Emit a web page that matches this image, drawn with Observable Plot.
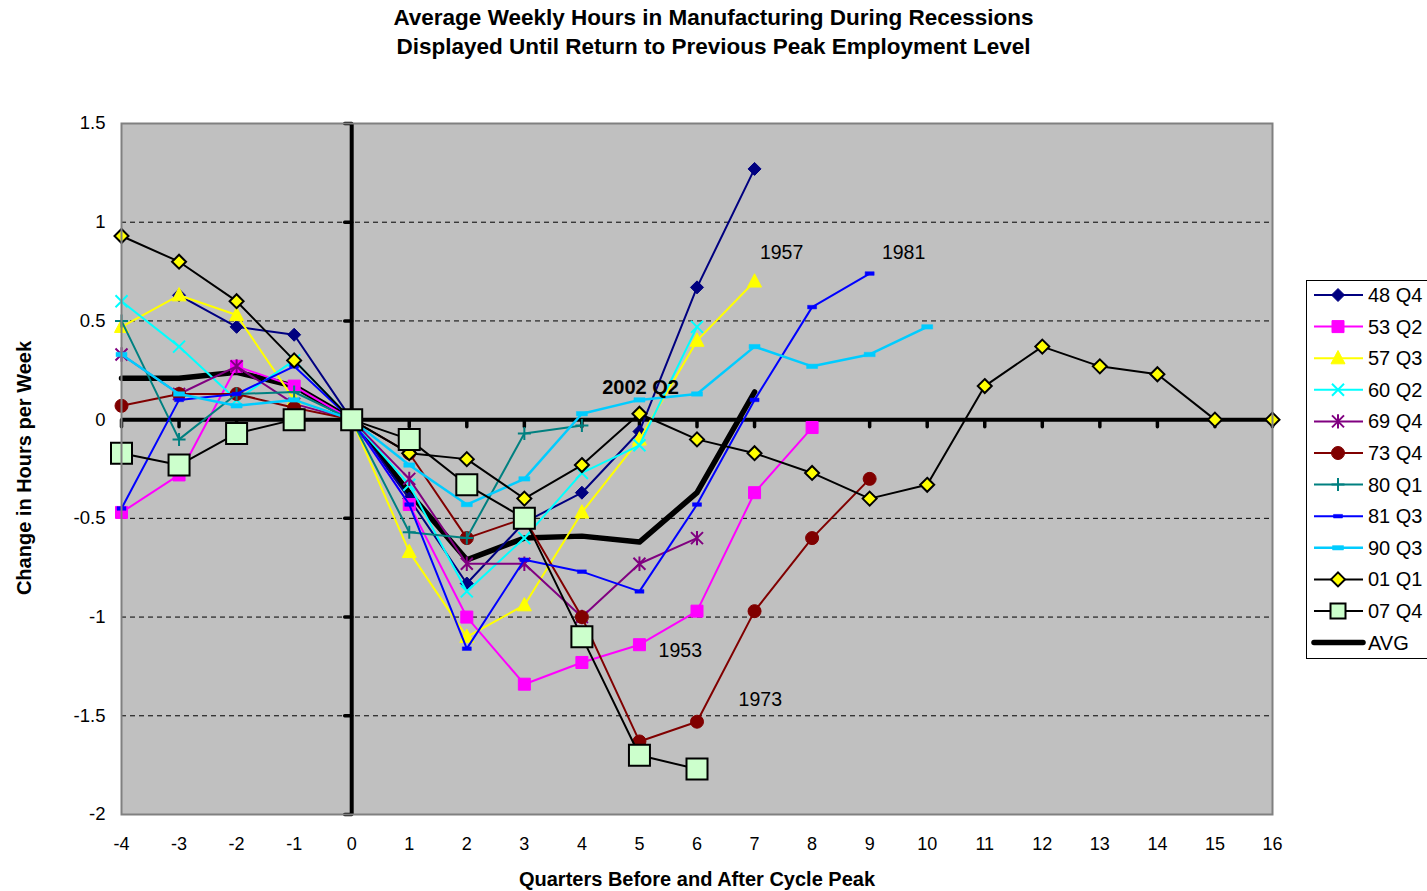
<!DOCTYPE html>
<html><head><meta charset="utf-8">
<script src="https://cdn.jsdelivr.net/npm/d3@7"></script>
<script src="https://cdn.jsdelivr.net/npm/@observablehq/plot@0.6"></script>
<style>
body{margin:0;background:#fff;font-family:Arial,"Liberation Sans",sans-serif;}
#wrap{position:relative;width:1427px;height:891px;overflow:hidden;background:#fff;}
#chart{position:absolute;left:0;top:0;}
#title{position:absolute;left:0;top:3px;width:1427px;text-align:center;font-weight:bold;font-size:22.5px;line-height:29px;color:#000;}
#ylab{position:absolute;left:24px;top:468px;transform:translate(-50%,-50%) rotate(-90deg);white-space:nowrap;font-weight:bold;font-size:20px;}
#xlab{position:absolute;left:697px;top:879px;transform:translate(-50%,-50%);white-space:nowrap;font-weight:bold;font-size:20px;}
#legend{position:absolute;left:1306px;top:280px;}
</style></head>
<body><div id="wrap">
<div id="chart"></div>
<div id="title">Average Weekly Hours in Manufacturing During Recessions<br>Displayed Until Return to Previous Peak Employment Level</div>
<div id="ylab">Change in Hours per Week</div>
<div id="xlab">Quarters Before and After Cycle Peak</div>
<div id="legend"></div>
</div>
<script>
// ---- data ----
const quarters = d3.range(-4, 17);
const yTicks = [-2, -1.5, -1, -0.5, 0, 0.5, 1, 1.5];
const gridTicks = [-1.5, -1, -0.5, 0.5, 1];
const seriesNames = ["48 Q4","53 Q2","57 Q3","60 Q2","69 Q4","73 Q4","80 Q1","81 Q3","90 Q3","01 Q1","07 Q4","AVG"];
// values start at quarter -4; null = no value
const v48 = [null, 0.63, 0.47, 0.43, 0, -0.40, -0.83, -0.52, -0.37, -0.06, 0.67, 1.27];
const v53 = [-0.47, -0.28, 0.27, 0.17, 0, -0.43, -1.00, -1.34, -1.23, -1.14, -0.97, -0.37, -0.04];
const v57 = [0.47, 0.63, 0.53, 0.10, 0, -0.67, -1.10, -0.94, -0.47, -0.10, 0.40, 0.70];
const v60 = [0.60, 0.37, 0.10, 0.30, 0, -0.33, -0.87, -0.60, -0.27, -0.13, 0.47];
const v69 = [0.33, 0.13, 0.27, 0.08, 0, -0.30, -0.73, -0.73, -1.00, -0.73, -0.60];
const v73 = [0.07, 0.13, 0.13, 0.06, 0, -0.17, -0.60, -0.50, -1.00, -1.63, -1.53, -0.97, -0.60, -0.30];
const v80 = [0.50, -0.10, 0.13, 0.14, 0, -0.57, -0.60, -0.07, -0.03];
const v81 = [-0.45, 0.10, 0.13, 0.27, 0, -0.43, -1.16, -0.71, -0.77, -0.87, -0.43, 0.10, 0.57, 0.74];
const v90 = [0.33, 0.13, 0.07, 0.10, 0, -0.23, -0.43, -0.30, 0.03, 0.10, 0.13, 0.37, 0.27, 0.33, 0.47];
const v01 = [0.93, 0.80, 0.60, 0.30, 0, -0.17, -0.20, -0.40, -0.23, 0.03, -0.10, -0.17, -0.27, -0.40, -0.33, 0.17, 0.37, 0.27, 0.23, 0, 0];
const v07 = [-0.17, -0.23, -0.07, 0, 0, -0.10, -0.33, -0.50, -1.10, -1.70, -1.77];
const vAvg = [0.21, 0.21, 0.24, 0.17, 0, -0.37, -0.71, -0.60, -0.59, -0.62, -0.37, 0.14];
const seriesValues = [v48, v53, v57, v60, v69, v73, v80, v81, v90, v01, v07, vAvg];
const annotNormal = [
  {q: 7.47, v: 0.846, t: "1957"},
  {q: 9.59, v: 0.846, t: "1981"},
  {q: 5.71, v: -1.17, t: "1953"},
  {q: 7.10, v: -1.42, t: "1973"}
];
const annotBold = [{q: 5.02, v: 0.162, t: "2002 Q2"}];

// ---- symbols ----
const R = s => Math.sqrt(s / Math.PI);
const sym = {
  diamond: {draw(c, s){const r = R(s); c.moveTo(0,-r); c.lineTo(r,0); c.lineTo(0,r); c.lineTo(-r,0); c.closePath();}},
  square: {draw(c, s){const r = R(s); c.rect(-r,-r,2*r,2*r);}},
  triangle: {draw(c, s){const r = R(s); c.moveTo(0,-r*1.1); c.lineTo(r,r*0.8); c.lineTo(-r,r*0.8); c.closePath();}},
  cross: {draw(c, s){const r = R(s); c.moveTo(-r,-r); c.lineTo(r,r); c.moveTo(r,-r); c.lineTo(-r,r);}},
  asterisk: {draw(c, s){const r = R(s); c.moveTo(-r,-r); c.lineTo(r,r); c.moveTo(r,-r); c.lineTo(-r,r); c.moveTo(0,-r*1.2); c.lineTo(0,r*1.2);}},
  circle: {draw(c, s){const r = R(s); c.moveTo(r,0); c.arc(0,0,r,0,2*Math.PI);}},
  plus: {draw(c, s){const r = R(s); c.moveTo(-r,0); c.lineTo(r,0); c.moveTo(0,-r); c.lineTo(0,r);}},
  dash: {draw(c, s){const r = R(s); c.rect(-r,-r*0.4,2*r,r*0.8);}},
  vtick: {draw(c, s){const r = R(s); c.moveTo(0,0); c.lineTo(0,r);}},
  htick: {draw(c, s){const r = R(s); c.moveTo(0,0); c.lineTo(-r,0);}}
};
const styles = [
  {color:"#000080", lw:2, sym:"diamond", r:6.5, fill:"#000080", stroke:"#000080", sw:1},
  {color:"#FF00FF", lw:2, sym:"square", r:6, fill:"#FF00FF", stroke:"#FF00FF", sw:1},
  {color:"#FFFF00", lw:2, sym:"triangle", r:7, fill:"#FFFF00", stroke:"#FFFF00", sw:1},
  {color:"#00FFFF", lw:2, sym:"cross", r:6, fill:"none", stroke:"#00FFFF", sw:2},
  {color:"#800080", lw:2, sym:"asterisk", r:6, fill:"none", stroke:"#800080", sw:2},
  {color:"#800000", lw:2, sym:"circle", r:6.5, fill:"#800000", stroke:"#800000", sw:1},
  {color:"#008080", lw:2, sym:"plus", r:6.5, fill:"none", stroke:"#008080", sw:2},
  {color:"#0000FF", lw:2, sym:"dash", r:4.5, fill:"#0000FF", stroke:"#0000FF", sw:0.5},
  {color:"#00CCFF", lw:2.5, sym:"dash", r:5.5, fill:"#00CCFF", stroke:"#00CCFF", sw:0.5},
  {color:"#000000", lw:2, sym:"diamond", r:7, fill:"#FFFF00", stroke:"#000000", sw:2},
  {color:"#000000", lw:2, sym:"square", r:10.5, fill:"#CCFFCC", stroke:"#000000", sw:2},
  {color:"#000000", lw:5.5, sym:null}
];

const rows = seriesNames.map((name, i) =>
  seriesValues[i].map((v, j) => ({s: name, q: quarters[j], v})).filter(d => d.v !== null));

const font = 'Arial, "Liberation Sans", sans-serif';
const marks = [
  Plot.frame({fill: "#C0C0C0"}),
  Plot.ruleY(gridTicks, {y: d => d, stroke: "#000", strokeWidth: 1, strokeDasharray: "5,4"}),
  Plot.ruleY([0], {y: d => d, stroke: "#000", strokeWidth: 4}),
  Plot.ruleX([0], {x: d => d, stroke: "#000", strokeWidth: 4}),
  Plot.dot(quarters.filter(q => q !== 0), {x: d => d, y: 0, symbol: sym.vtick, r: 7, stroke: "#000", strokeWidth: 3.5, strokeLinecap: "round"}),
  Plot.dot(yTicks.filter(t => t !== 0), {x: 0, y: d => d, symbol: sym.htick, r: 7, stroke: "#000", strokeWidth: 3.5, strokeLinecap: "round"}),
  Plot.axisX(quarters, {tickSize: 0, tickPadding: 23, fontSize: 18, tickFormat: d => String(d), label: null}),
  Plot.axisY(yTicks, {tickSize: 0, tickPadding: 16, fontSize: 18.5, tickFormat: d => String(d), label: null})
];
// AVG first (underneath), then each series
const order = [11, 0, 1, 2, 3, 4, 5, 6, 7, 8, 9, 10];
for (const i of order) {
  const st = styles[i];
  marks.push(Plot.line(rows[i], {x: "q", y: "v", stroke: st.color, strokeWidth: st.lw, strokeLinejoin: "round"}));
  if (st.sym) marks.push(Plot.dot(rows[i], {x: "q", y: "v", symbol: sym[st.sym], r: st.r, fill: st.fill, stroke: st.stroke, strokeWidth: st.sw}));
}
marks.push(
  Plot.text(annotNormal, {x: "q", y: "v", text: "t", fontSize: 19.5, fill: "#000"}),
  Plot.text(annotBold, {x: "q", y: "v", text: "t", fontSize: 20, fontWeight: "bold", fill: "#000"}),
  Plot.frame({stroke: "#808080", strokeWidth: 2})
);

const chart = Plot.plot({
  width: 1427, height: 891,
  marginLeft: 121, marginRight: 155, marginTop: 123, marginBottom: 77,
  x: {domain: [-4, 16]},
  y: {domain: [-2, 1.5]},
  style: {fontFamily: font, fontSize: "18px", color: "#000", background: "transparent", overflow: "visible"},
  marks
});
document.getElementById("chart").appendChild(chart);

// ---- legend ----
const lg = d3.select("#legend").append("svg").attr("width", 125).attr("height", 380);
lg.append("rect").attr("x", 0.5).attr("y", 0.5).attr("width", 140).attr("height", 378)
  .attr("fill", "#fff").attr("stroke", "#000").attr("stroke-width", 1);
seriesNames.forEach((name, i) => {
  const st = styles[i];
  const y = 15 + i * 31.6;
  const g = lg.append("g").attr("transform", `translate(0,${y})`);
  g.append("line").attr("x1", 8).attr("x2", 57).attr("y1", 0).attr("y2", 0)
    .attr("stroke", st.color).attr("stroke-width", st.lw).attr("stroke-linecap", i === 11 ? "round" : "butt");
  if (st.sym) {
    g.append("path").attr("transform", "translate(32,0)")
      .attr("d", d3.symbol().type(sym[st.sym]).size(Math.PI * (i === 10 ? 7.5 : st.r) ** 2)())
      .attr("fill", st.fill).attr("stroke", st.stroke).attr("stroke-width", st.sw);
  }
  g.append("text").attr("x", 62).attr("y", 0).attr("dy", "0.35em")
    .attr("font-size", 20).attr("font-family", font).text(name);
});
</script>
</body></html>
